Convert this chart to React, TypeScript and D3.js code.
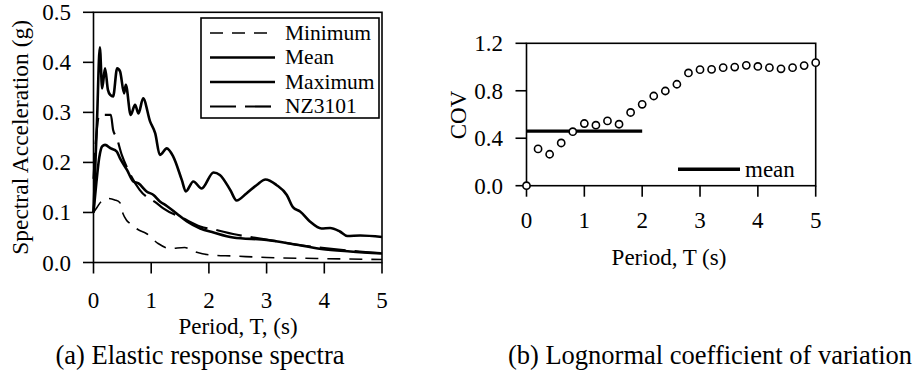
import React from "react";
import * as d3 from "d3";

// ---------- data ----------
const periodTicks = [0, 1, 2, 3, 4, 5];
const saTicks = [0, 0.1, 0.2, 0.3, 0.4, 0.5];
const covTicks = [0, 0.4, 0.8, 1.2];

const minimumSpectrum: [number, number][] = [
  [0, 0.1], [0.06, 0.11], [0.135, 0.122], [0.25, 0.128], [0.37, 0.125], [0.455, 0.12],
  [0.51, 0.098], [0.57, 0.085], [0.63, 0.078], [0.77, 0.066], [0.915, 0.058], [1.12, 0.038],
  [1.32, 0.028], [1.58, 0.03], [1.75, 0.022], [2.02, 0.015], [2.42, 0.013], [3.0, 0.01],
  [3.87, 0.008], [5.0, 0.006],
];
const meanSpectrum: [number, number][] = [
  [0, 0.1], [0.05, 0.16], [0.1, 0.21], [0.15, 0.232], [0.2, 0.235], [0.3, 0.228],
  [0.4, 0.222], [0.46, 0.208], [0.58, 0.185], [0.69, 0.162], [0.78, 0.158], [0.92, 0.142],
  [1.04, 0.135], [1.15, 0.122], [1.27, 0.113], [1.44, 0.098], [1.62, 0.082], [1.85, 0.068],
  [2.08, 0.06], [2.42, 0.05], [3.0, 0.045], [3.4, 0.038], [3.95, 0.027], [4.45, 0.022],
  [5.0, 0.018],
];
const maximumSpectrum: [number, number][] = [
  [0, 0.1], [0.06, 0.28], [0.11, 0.43], [0.15, 0.348], [0.2, 0.388], [0.25, 0.345],
  [0.29, 0.335], [0.34, 0.332], [0.41, 0.388], [0.46, 0.382], [0.53, 0.338], [0.56, 0.355],
  [0.645, 0.295], [0.72, 0.315], [0.78, 0.298], [0.86, 0.328], [0.98, 0.282], [1.07, 0.258],
  [1.15, 0.215], [1.27, 0.228], [1.38, 0.212], [1.53, 0.165], [1.6, 0.142], [1.73, 0.162],
  [1.875, 0.148], [2.08, 0.18], [2.19, 0.175], [2.37, 0.145], [2.48, 0.124], [2.65, 0.138],
  [2.83, 0.155], [2.98, 0.166], [3.17, 0.155], [3.35, 0.135], [3.46, 0.11], [3.58, 0.102],
  [3.75, 0.082], [3.95, 0.068], [4.1, 0.069], [4.27, 0.062], [4.4, 0.053], [4.62, 0.054],
  [5.0, 0.051],
];
const nz3101Spectrum: [number, number][] = [
  [0, 0.167], [0.1, 0.295], [0.3, 0.295], [0.34, 0.265], [0.4, 0.25], [0.49, 0.215],
  [0.6, 0.185], [0.8, 0.145], [1.1, 0.118], [1.21, 0.108], [1.56, 0.088], [1.85, 0.072],
  [2.13, 0.065], [2.42, 0.057], [2.77, 0.05], [3.0, 0.046], [3.5, 0.036], [4.0, 0.029],
  [4.5, 0.023], [5.0, 0.0185],
];

const covPeriods = [
  0, 0.2, 0.4, 0.6, 0.8, 1.0, 1.2, 1.4, 1.6, 1.8, 2.0, 2.2, 2.4,
  2.6, 2.8, 3.0, 3.2, 3.4, 3.6, 3.8, 4.0, 4.2, 4.4, 4.6, 4.8, 5.0,
];
const covValues = [
  0.0, 0.31, 0.265, 0.36, 0.455, 0.524, 0.51, 0.546, 0.518, 0.617, 0.686, 0.756, 0.798,
  0.855, 0.95, 0.978, 0.98, 0.995, 1.0, 1.014, 1.005, 0.995, 0.985, 0.995, 1.012, 1.037,
];
const meanCov = 0.46;
const meanCovRange = [0, 2];

const legendItems = [
  { label: "Minimum", dash: "13,9", width: 1.6 },
  { label: "Mean", dash: "", width: 2.6 },
  { label: "Maximum", dash: "", width: 2.6 },
  { label: "NZ3101", dash: "26,9", width: 2.2 },
];

// ---------- layout ----------
const FONT = "'Liberation Serif', 'Times New Roman', serif";

const xA = d3.scaleLinear().domain([0, 5]).range([93.5, 382]);
const yA = d3.scaleLinear().domain([0, 0.5]).range([262.5, 12.3]);
const xB = d3.scaleLinear().domain([0, 5]).range([526.5, 815.7]);
const yB = d3.scaleLinear().domain([0, 1.2]).range([185.7, 43.3]);

const lineA = d3
  .line<[number, number]>()
  .x((d) => xA(d[0]))
  .y((d) => yA(d[1]))
  .curve(d3.curveMonotoneX);

export default function App() {
  const series = [
    { data: minimumSpectrum, dash: "13,9", width: 1.6 },
    { data: nz3101Spectrum, dash: "26,9", width: 2.2 },
    { data: meanSpectrum, dash: "", width: 2.6 },
    { data: maximumSpectrum, dash: "", width: 2.6 },
  ];
  const covPoints = covPeriods.map((t, i) => [t, covValues[i]] as [number, number]);

  return (
    <svg
      width={915}
      height={378}
      style={{ position: "absolute", left: 0, top: 0, background: "#fff" }}
      fontFamily={FONT}
    >
      {/* ----- chart (a) ----- */}
      <g>
        {series.map((s, i) => (
          <path
            key={i}
            d={lineA(s.data) || ""}
            fill="none"
            stroke="#000"
            strokeWidth={s.width}
            strokeDasharray={s.dash || undefined}
          />
        ))}
        <rect
          x={xA(0)}
          y={yA(0.5)}
          width={xA(5) - xA(0)}
          height={yA(0) - yA(0.5)}
          fill="none"
          stroke="#000"
          strokeWidth={1.6}
        />
        {saTicks.map((t) => (
          <g key={t}>
            <line x1={xA(0) - 10.5} x2={xA(0)} y1={yA(t)} y2={yA(t)} stroke="#000" strokeWidth={1.6} />
            <text x={71} y={yA(t) + 8} textAnchor="end" fontSize={23}>
              {t.toFixed(1)}
            </text>
          </g>
        ))}
        {periodTicks.map((t) => (
          <g key={t}>
            <line x1={xA(t)} x2={xA(t)} y1={yA(0)} y2={yA(0) + 11} stroke="#000" strokeWidth={1.6} />
            <text x={xA(t)} y={308} textAnchor="middle" fontSize={23}>
              {t}
            </text>
          </g>
        ))}
        <text x={238} y={334} textAnchor="middle" fontSize={23}>
          Period, T, (s)
        </text>
        <text
          transform={`translate(28, ${(yA(0) + yA(0.5)) / 2}) rotate(-90)`}
          textAnchor="middle"
          fontSize={23.5}
        >
          Spectral Acceleration (g)
        </text>
        <text x={200} y={364} textAnchor="middle" fontSize={26.5}>
          (a) Elastic response spectra
        </text>

        {/* legend */}
        <rect x={201} y={18} width={178} height={100} fill="#fff" stroke="#000" strokeWidth={1.6} />
        {legendItems.map((it, i) => (
          <g key={it.label}>
            <line
              x1={210}
              x2={275}
              y1={33 + i * 24.5}
              y2={33 + i * 24.5}
              stroke="#000"
              strokeWidth={it.width}
              strokeDasharray={it.dash || undefined}
            />
            <text x={285} y={40 + i * 24.3} fontSize={21.5}>
              {it.label}
            </text>
          </g>
        ))}
      </g>

      {/* ----- chart (b) ----- */}
      <g>
        <rect
          x={xB(0)}
          y={yB(1.2)}
          width={xB(5) - xB(0)}
          height={yB(0) - yB(1.2)}
          fill="none"
          stroke="#000"
          strokeWidth={1.6}
        />
        {covTicks.map((t) => (
          <g key={t}>
            <line x1={xB(0) - 11} x2={xB(0)} y1={yB(t)} y2={yB(t)} stroke="#000" strokeWidth={1.6} />
            <text x={503} y={yB(t) + 8} textAnchor="end" fontSize={23}>
              {t.toFixed(1)}
            </text>
          </g>
        ))}
        {periodTicks.map((t) => (
          <g key={t}>
            <line x1={xB(t)} x2={xB(t)} y1={yB(0)} y2={yB(0) + 11} stroke="#000" strokeWidth={1.6} />
            <text x={xB(t)} y={228} textAnchor="middle" fontSize={23}>
              {t}
            </text>
          </g>
        ))}
        <line
          x1={xB(meanCovRange[0])}
          x2={xB(meanCovRange[1])}
          y1={yB(meanCov)}
          y2={yB(meanCov)}
          stroke="#000"
          strokeWidth={3.4}
        />
        {covPoints.map((p, i) => (
          <circle key={i} cx={xB(p[0])} cy={yB(p[1])} r={3.6} fill="#fff" stroke="#000" strokeWidth={1.6} />
        ))}
        {/* legend */}
        <line x1={678} x2={740} y1={169.3} y2={169.3} stroke="#000" strokeWidth={3.4} />
        <text x={745} y={176.5} fontSize={23}>
          mean
        </text>
        <text x={669} y={265} textAnchor="middle" fontSize={23}>
          Period, T (s)
        </text>
        <text transform={`translate(466, 115) rotate(-90)`} textAnchor="middle" fontSize={23}>
          COV
        </text>
        <text x={710} y={364} textAnchor="middle" fontSize={26.5}>
          (b) Lognormal coefficient of variation
        </text>
      </g>
    </svg>
  );
}
